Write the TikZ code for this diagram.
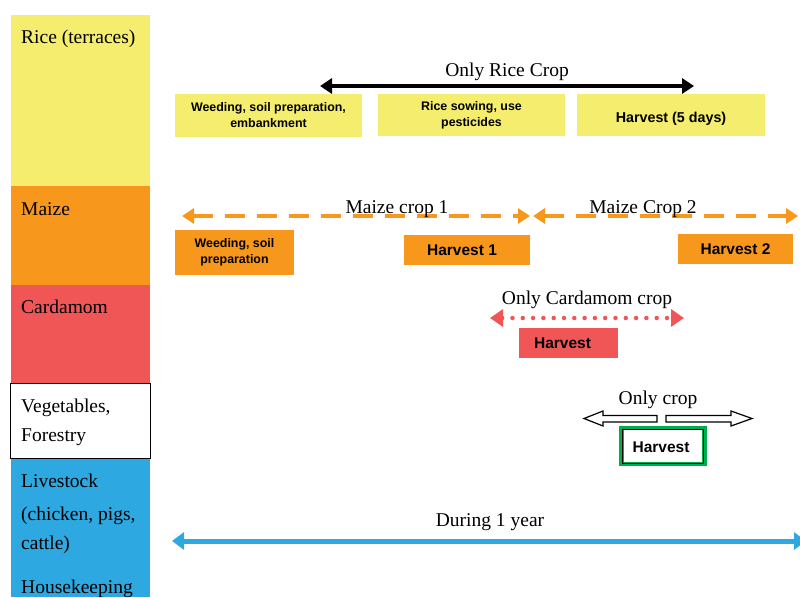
\documentclass[tikz,border=0pt]{standalone}
\usepackage{fontspec}
\setmainfont{Liberation Serif}
\setsansfont{Liberation Sans}
\usetikzlibrary{arrows.meta}
\definecolor{riceY}{RGB}{245,237,110}
\definecolor{maizeO}{RGB}{247,152,29}
\definecolor{cardR}{RGB}{240,86,86}
\definecolor{liveB}{RGB}{46,168,224}
\definecolor{vegG}{RGB}{0,172,78}
\tikzset{
  lbl/.style={anchor=base, inner sep=0pt, font=\fontsize{19.5}{22}\selectfont},
  collbl/.style={anchor=base west, inner sep=0pt, font=\fontsize{19.5}{22}\selectfont},
  boxtxt/.style={inner sep=0pt, align=center, font=\fontsize{12.4}{16}\selectfont\sffamily\bfseries},
  bigtxt/.style={inner sep=0pt, align=center, font=\fontsize{15.5}{18}\selectfont\sffamily\bfseries},
  ricebox/.style={fill=riceY},
  maizebox/.style={fill=maizeO},
  cardbox/.style={fill=cardR},
  blackarrow/.style={line width=4pt, draw=black, {Triangle[length=12pt,width=15pt]}-{Triangle[length=12pt,width=15pt]}},
  maizearrow/.style={line width=4pt, draw=maizeO, dash pattern=on 20pt off 12pt, {Triangle[length=12pt,width=15pt]}-{Triangle[length=12pt,width=15pt]}},
  cardarrow/.style={line width=4.5pt, draw=cardR, line cap=round, dash pattern=on 0pt off 10.3pt, {Triangle[length=13pt,width=17pt]}-{Triangle[length=13pt,width=17pt]}},
  bluearrow/.style={line width=5pt, draw=liveB, {Triangle[length=12pt,width=17pt]}-{Triangle[length=12pt,width=17pt]}},
  hollow/.style={draw=black, line width=1.2pt, fill=white, line join=miter}
}
\begin{document}
\begin{tikzpicture}[x=1pt,y=-1pt]
\useasboundingbox (0,0) rectangle (800,597);
% left column
\fill[riceY] (11,15) rectangle (150,186);
\fill[maizeO] (11,186) rectangle (150,285);
\fill[cardR] (11,285) rectangle (150,383);
\fill[liveB] (11,458) rectangle (150,597);
\draw[black, line width=1pt, fill=white] (10,383) rectangle (150,458);
\node[collbl] (c1) at (21,43) {Rice (terraces)};
\node[collbl] (c2) at (21,215) {Maize};
\node[collbl] (c3) at (21,313) {Cardamom};
\node[collbl] (c4) at (21,412) {Vegetables,};
\node[collbl] (c5) at (21,441) {Forestry};
\node[collbl] (c6) at (21,487) {Livestock};
\node[collbl] (c7) at (21,520) {(chicken, pigs,};
\node[collbl] (c8) at (21,549) {cattle)};
\node[collbl] (c9) at (21,593) {Housekeeping};
% rice
\node[ricebox, minimum width=187pt, minimum height=43pt, inner sep=0pt] (r1) at (268.5,115.5) {};
\node[boxtxt] at (r1) {Weeding, soil preparation,\\embankment};
\node[ricebox, minimum width=187pt, minimum height=42pt, inner sep=0pt] (r2) at (471.5,115) {};
\node[boxtxt] at (r2) {Rice sowing, use\\pesticides};
\node[ricebox, minimum width=188pt, minimum height=42pt, inner sep=0pt] (r3) at (671,115) {};
\node[boxtxt, font=\fontsize{14.3}{16}\selectfont\sffamily\bfseries] at ([yshift=-4pt]r3.center) {Harvest (5 days)};
\coordinate (ra) at (320,86);
\coordinate (rb) at (694,86);
\draw[blackarrow] (ra) -- (rb);
\node[lbl] (rl) at (507,76) {Only Rice Crop};
% maize
\node[maizebox, minimum width=119pt, minimum height=45pt, inner sep=0pt] (m1) at (234.5,252.5) {};
\node[boxtxt] at (m1) {Weeding, soil\\preparation};
\node[maizebox, minimum width=126pt, minimum height=30pt, inner sep=0pt] (m2) at (467,250) {};
\node[bigtxt] at ([xshift=-5pt]m2.center) {Harvest 1};
\node[maizebox, minimum width=115pt, minimum height=30pt, inner sep=0pt] (m3) at (735.5,249) {};
\node[bigtxt] at (m3) {Harvest 2};
\coordinate (ma) at (182,216);
\coordinate (mb) at (530,216);
\coordinate (mc) at (533,216);
\coordinate (md) at (798,216);
\draw[maizearrow] (ma) -- (mb);
\draw[maizearrow] (mc) -- (md);
\node[lbl] (ml1) at (397,213) {Maize crop 1};
\node[lbl] (ml2) at (643,213) {Maize Crop 2};
% cardamom
\node[cardbox, minimum width=99pt, minimum height=30pt, inner sep=0pt] (k1) at (568.5,343) {};
\node[bigtxt] at ([xshift=-6pt]k1.center) {Harvest};
\coordinate (ka) at (490,318);
\coordinate (kb) at (684,318);
\draw[cardarrow] (ka) -- (kb);
\node[lbl] (kl) at (587,304) {Only Cardamom crop};
% vegetables
\node[lbl] (vl) at (658,404) {Only crop};
\draw[hollow] (584,418.5) -- (603,411) -- (603,415.5) -- (657,415.5) -- (657,422) -- (603,422) -- (603,426) -- cycle;
\draw[hollow] (752,418.5) -- (731,411) -- (731,415.5) -- (666,415.5) -- (666,422) -- (731,422) -- (731,426) -- cycle;
\node[draw=vegG, line width=4.5pt, minimum width=83pt, minimum height=36pt, inner sep=0pt] (v1) at (663,446) {};
\draw[black, line width=0.9pt] ([shift={(3.2pt,3.2pt)}]v1.south west) rectangle ([shift={(-3.2pt,-3.2pt)}]v1.north east);
\node[bigtxt] at ([xshift=-2pt,yshift=-1pt]v1.center) {Harvest};
% livestock
\coordinate (ba) at (172,541);
\coordinate (bb) at (806,541);
\draw[bluearrow] (ba) -- (bb);
\node[lbl] (bl) at (490,526) {During 1 year};
\end{tikzpicture}
\end{document}
